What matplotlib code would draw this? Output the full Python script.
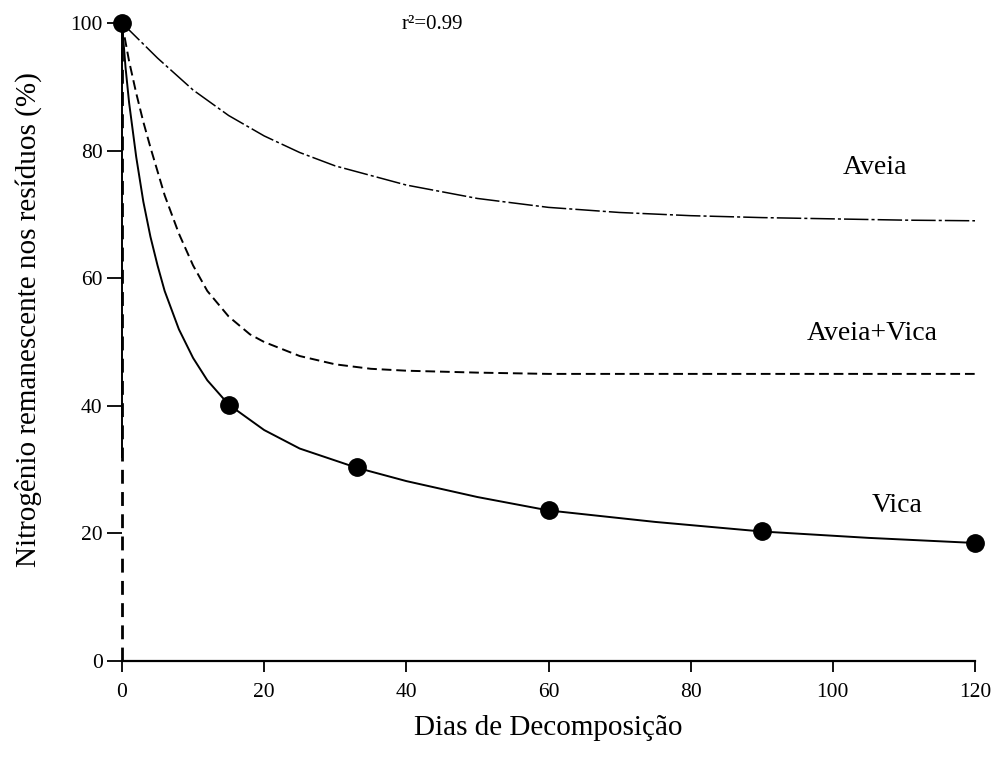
import matplotlib
matplotlib.use("Agg")
import matplotlib.pyplot as plt

plt.rcParams['font.family'] = ['Liberation Serif', 'DejaVu Serif']

# Fitted curves (days, % N remaining)
aveia_x = [0, 2, 5, 8, 10, 15, 20, 25, 30, 40, 50, 60, 70, 80, 90, 100, 110, 120]
aveia_y = [100, 97.8, 94.5, 91.5, 89.5, 85.5, 82.3, 79.7, 77.6, 74.6, 72.5, 71.1, 70.3, 69.8, 69.5, 69.3, 69.1, 69]

av_x = [0, 1, 2, 3, 4, 6, 8, 10, 12, 15, 18, 20, 25, 30, 35, 40, 50, 60, 90, 120]
av_y = [100, 94, 89, 84.5, 80.5, 73, 67, 62, 58, 54, 51.2, 50, 47.8, 46.5, 45.8, 45.5, 45.2, 45, 45, 45]

vica_x = [0, 0.5, 1, 2, 3, 4, 5, 6, 8, 10, 12, 15, 20, 25, 33, 40, 50, 60, 75, 90, 105, 120]
vica_y = [100, 93, 87.5, 79, 72, 66.5, 62, 58, 52, 47.5, 44, 40.2, 36.2, 33.3, 30.3, 28.2, 25.7, 23.6, 21.8, 20.3, 19.3, 18.5]

# Observed points (Vica)
obs_x = [0, 15, 33, 60, 90, 120]
obs_y = [100, 40.2, 30.4, 23.6, 20.3, 18.5]

x_ticks = [0, 20, 40, 60, 80, 100, 120]
x_ticklabels = ['0', '20', '40', '60', '80', '100', '120']
y_ticks = [0, 20, 40, 60, 80, 100]

fig = plt.figure(figsize=(9.97, 7.57), dpi=100)
ax = fig.add_axes([122/997, 1 - 661/757, (975-122)/997, (661-23)/757])

ax.plot(aveia_x, aveia_y, color='black', lw=1.1, ls=(0, (16, 2, 2, 2)), clip_on=False)
ax.plot(av_x, av_y, color='black', lw=1.4, ls=(0, (5, 2.5)), clip_on=False)
ax.plot(vica_x, vica_y, color='black', lw=1.4, ls='-', clip_on=False)
ax.plot(obs_x, obs_y, 'o', color='black', ms=12.5, clip_on=False, zorder=5)

ax.set_xlim(0, 120)
ax.set_ylim(0, 100)

for s in ['top', 'right']:
    ax.spines[s].set_visible(False)
ax.spines['left'].set_bounds(32, 100)
ax.spines['left'].set_linewidth(1.4)
ax.spines['bottom'].set_linewidth(1.6)
ax.axvline(0, 0, 1, color='black', lw=2.0, ls=(0, (5, 3)), clip_on=False)

ax.set_xticks(x_ticks)
ax.set_xticklabels(x_ticklabels)
ax.set_yticks(y_ticks)
ax.tick_params(axis='y', direction='out', length=11, width=1.3, pad=3, labelsize=15.5)
ax.tick_params(axis='x', direction='out', length=8, width=1.3, pad=8, labelsize=15.5)

ax.set_xlabel('Dias de Decomposição', fontsize=21, labelpad=9)
ax.set_ylabel('Nitrogênio remanescente nos resíduos (%)', fontsize=21)
ax.yaxis.set_label_coords(-0.094, 0.535)

ax.text(106, 77.3, 'Aveia', fontsize=20, ha='center', va='center')
ax.text(105.5, 51.4, 'Aveia+Vica', fontsize=20, ha='center', va='center')
ax.text(109, 24.4, 'Vica', fontsize=20, ha='center', va='center')
ax.text(43.6, 99.7, 'r²=0.99', fontsize=15, ha='center', va='center')

fig.savefig('out.png', dpi=100)
